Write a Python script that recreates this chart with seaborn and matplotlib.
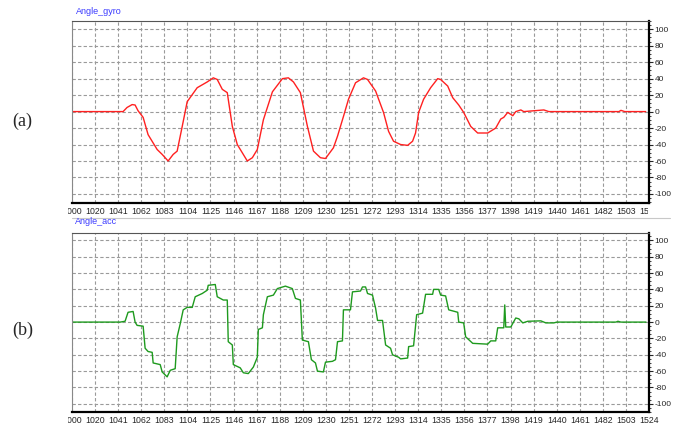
import pandas as pd
import seaborn as sns
from matplotlib import pyplot as plt
from matplotlib.ticker import MultipleLocator, FixedLocator, AutoMinorLocator
from matplotlib.transforms import Bbox
from matplotlib.lines import Line2D

# gyro angle (top panel)
gyro_t = [1000, 1046.4, 1050, 1054.6, 1057.3, 1060, 1064.6, 1069.1, 1077.3, 1081.9,
          1087.3, 1091.9, 1095.5, 1100.1, 1104.6, 1113.7, 1122.8, 1128.3, 1131.9, 1136.5,
          1141, 1145.6, 1150.1, 1159.2, 1163.8, 1168.3, 1173.8, 1182, 1191.1, 1196.5,
          1201.1, 1207.4, 1213.8, 1219.3, 1225.6, 1230.2, 1237.4, 1241.1, 1246.5, 1251.1,
          1257.5, 1264.7, 1268.4, 1275.7, 1282.9, 1287.5, 1292, 1298.4, 1304.8, 1309.3,
          1312, 1314.8, 1319.3, 1325.7, 1332.1, 1334.8, 1341.2, 1345.7, 1351.2, 1355.7,
          1362.1, 1368.4, 1377.5, 1384.8, 1389.4, 1392.1, 1395.7, 1400.3, 1403, 1407.6,
          1410.3, 1428.5, 1433, 1496.7, 1498.5, 1502, 1521]
gyro_v = [0, 0, 5, 8.5, 8, 1, -7, -28, -46, -52,
          -60, -52, -48, -18, 12, 29, 36, 41, 39, 27,
          23, -18, -40, -60, -56, -46, -10, 24, 40, 41,
          36, 23, -18, -48, -56, -57, -44, -30, -6, 15,
          35, 41, 39, 25, -1, -24, -36, -40, -41, -36,
          -26, -1, 15, 29, 40, 39, 31, 17, 8, -1,
          -18, -26, -26, -20, -9, -7, -1, -5, 0, 2,
          0, 2, 0, 0, 1.5, 0, 0]

# accelerometer angle (bottom panel)
acc_t = [1000, 1043.7, 1048.2, 1050.9, 1055.5, 1057.3, 1059.1, 1064.6, 1066.4, 1069.1,
         1072.8, 1073.7, 1080.1, 1081.9, 1086.4, 1089.2, 1093.7, 1095.5, 1098.3, 1101,
         1104.6, 1109.2, 1111.9, 1118.3, 1122.8, 1123.7, 1130.1, 1131.9, 1137.4, 1141,
         1141.9, 1145.6, 1146.5, 1152.8, 1155.6, 1160.1, 1164.7, 1168.3, 1169.2, 1172.9,
         1173.8, 1177.4, 1182.9, 1186.5, 1193.8, 1200.1, 1202.9, 1207.4, 1209.2, 1214.7,
         1217.4, 1221.1, 1222.9, 1228.3, 1230.2, 1236.5, 1239.3, 1241.1, 1245.6, 1246.5,
         1252.9, 1254.7, 1262, 1263.8, 1266.6, 1268.4, 1272.9, 1275.7, 1277.5, 1282,
         1284.8, 1289.3, 1291.1, 1296.6, 1298.4, 1304.8, 1305.7, 1310.2, 1313, 1318.4,
         1321.1, 1327.5, 1328.4, 1333, 1334.8, 1339.3, 1342.1, 1350.3, 1351.2, 1355.7,
         1357.5, 1363.9, 1377.5, 1380.3, 1384.8, 1386.6, 1392.1, 1393, 1393.9, 1398.5,
         1403, 1405.8, 1409.4, 1413.9, 1425.8, 1430.3, 1437.6, 1440.3, 1494, 1495.8,
         1498.5, 1521.3]
acc_v = [0, 0, 1, 12, 13, 0, -4, -5, -32, -36,
         -37, -50, -52, -61, -67, -59, -57, -18, -2, 15,
         18, 18, 31, 35, 39, 45, 46, 31, 27, 27,
         -24, -28, -52, -56, -62, -63, -55, -43, -9, -7,
         9, 31, 33, 41, 44, 41, 29, 27, -22, -24,
         -46, -50, -60, -61, -49, -48, -46, -24, -23, 15,
         15, 37, 38, 43, 43, 35, 33, 17, 2, 2,
         -28, -32, -40, -43, -45, -44, -30, -29, 9, 11,
         34, 34, 40, 40, 33, 32, 15, 12, 0, -1,
         -18, -26, -27, -23, -23, -7, -7, 21, -6, -6,
         5, 4, -1, 1, 1.5, -1, -1, 0, 0, 1,
         0, 0]

x_ticks = [1000, 1020, 1041, 1062, 1083, 1104, 1125, 1146, 1167, 1188, 1209, 1230, 1251,
           1272, 1293, 1314, 1335, 1356, 1377, 1398, 1419, 1440, 1461, 1482, 1503, 1524]
y_ticks = [-100, -80, -60, -40, -20, 0, 20, 40, 60, 80, 100]

sns.set_style("white")
plt.rcParams['font.family'] = ['Liberation Sans', 'DejaVu Sans']
plt.rcParams['axes.unicode_minus'] = False

fig = plt.figure(figsize=(6.82, 4.29), dpi=100)
ax1 = fig.add_axes([72/682, 1-203/429, 577/682, 182/429])
ax2 = fig.add_axes([72/682, 1-412/429, 577/682, 179/429])

gyro = pd.DataFrame({'t': gyro_t, 'angle': gyro_v})
acc = pd.DataFrame({'t': acc_t, 'angle': acc_v})
sns.lineplot(data=gyro, x='t', y='angle', ax=ax1, color='#ff2020', linewidth=1.0)
sns.lineplot(data=acc, x='t', y='angle', ax=ax2, color='#1e9a1e', linewidth=1.0)

# positions of the tick labels: 1000..1524 split into 25 equal parts
tick_pos = [1000 + i * 524 / 25 for i in range(26)]

for ax, ylim, right_clip in [(ax1, (-111, 110), 648), (ax2, (-110, 109), 682)]:
    ax.set_xlim(1000, 1524)
    ax.set_ylim(*ylim)
    ax.set_xlabel('')
    ax.set_ylabel('')
    ax.xaxis.set_major_locator(FixedLocator(tick_pos))
    ax.set_xticklabels([str(t) for t in x_ticks])
    ax.yaxis.set_major_locator(FixedLocator(y_ticks))
    ax.yaxis.set_minor_locator(MultipleLocator(5))
    ax.xaxis.set_minor_locator(AutoMinorLocator(5))
    ax.yaxis.tick_right()
    ax.tick_params(axis='y', which='major', labelsize=6, length=3, width=0.8,
                   direction='out', pad=1, right=True, left=False)
    ax.tick_params(axis='y', which='minor', length=1.5, width=0.6, right=True, left=False)
    ax.tick_params(axis='x', which='major', labelsize=6.3, length=2, width=0.6,
                   direction='in', pad=3)
    ax.tick_params(axis='x', which='minor', length=1.5, width=0.5, direction='in')
    ax.grid(True, which='major', linestyle=(0, (3, 2)), color='#9a9a9a', linewidth=0.8)
    ax.spines['top'].set_color('#555555')
    ax.spines['top'].set_linewidth(0.8)
    ax.spines['left'].set_color('#888888')
    ax.spines['left'].set_linewidth(0.8)
    ax.spines['bottom'].set_color('black')
    ax.spines['bottom'].set_linewidth(1.6)
    ax.spines['right'].set_color('black')
    ax.spines['right'].set_linewidth(1.6)
    clip = Bbox.from_extents(68, 0, right_clip, 429)
    for lab in ax.get_xticklabels():
        lab.set_clip_box(clip)
        lab.set_clip_on(True)

fig.text(76/682, 1-12/429, 'Angle_gyro', color='#3a3aff', fontsize=6.5, va='center')
fig.text(75/682, 1-222/429, 'Angle_acc', color='#3a3aff', fontsize=6.5, va='center')
fig.text(12/682, 1-121/429, '(a)', fontsize=13, va='center', family='Liberation Serif')
fig.text(12/682, 1-330/429, '(b)', fontsize=13, va='center', family='Liberation Serif')

fig.add_artist(Line2D([72/682, 670/682], [1-218/429, 1-218/429], color='#c8c8c8', linewidth=0.8))

fig.savefig('out.png', dpi=100)
